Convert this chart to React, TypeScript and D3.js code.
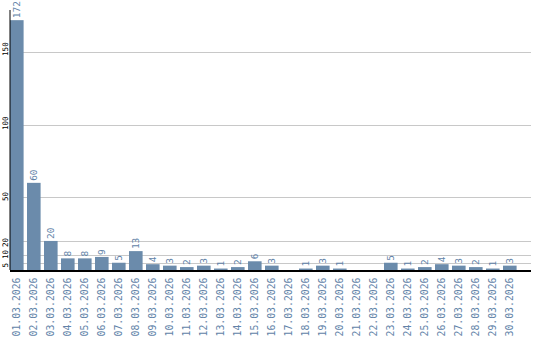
import React from "react";
import * as d3 from "d3";

const dates = [
  "01.03.2026","02.03.2026","03.03.2026","04.03.2026","05.03.2026","06.03.2026",
  "07.03.2026","08.03.2026","09.03.2026","10.03.2026","11.03.2026","12.03.2026",
  "13.03.2026","14.03.2026","15.03.2026","16.03.2026","17.03.2026","18.03.2026",
  "19.03.2026","20.03.2026","21.03.2026","22.03.2026","23.03.2026","24.03.2026",
  "25.03.2026","26.03.2026","27.03.2026","28.03.2026","29.03.2026","30.03.2026",
];
const values = [172, 60, 20, 8, 8, 9, 5, 13, 4, 3, 2, 3, 1, 2, 6, 3, 0, 1, 3, 1, 0, 0, 5, 1, 2, 4, 3, 2, 1, 3];
const yTicks = [5, 10, 20, 50, 100, 150];
const yTickOffsets: Record<number, number> = { 5: 2.5, 10: -1, 20: 1.5, 50: -1, 100: -1.5, 150: -3 };

const W = 540;
const H = 340;
const BAR = "#6b8bab";
const TXT = "#6283a8";
const MONO = "'DejaVu Sans Mono', 'Liberation Mono', monospace";

export default function App() {
  const x = d3.scaleBand<string>().domain(dates).range([10, 516.6]).paddingInner(0.2).paddingOuter(0);
  const y = d3.scaleLinear().domain([0, 179]).range([270, 10]);
  const x0 = 10;
  const x1 = 531;
  const base = y(0);

  return (
    <svg width={W} height={H} style={{ position: "absolute", left: 0, top: 0, background: "#fff" }}>
      {yTicks.map((t) => (
        <line key={"g" + t} x1={x0} x2={x1} y1={Math.round(y(t)) + 0.5} y2={Math.round(y(t)) + 0.5} stroke="#c8c8c8" strokeWidth={1} />
      ))}
      {yTicks.map((t) => {
        const ty = y(t) + (yTickOffsets[t] || 0);
        return (
          <text key={"t" + t} transform={`translate(5,${ty}) rotate(-90)`} textAnchor="middle" dominantBaseline="central"
            fontFamily={MONO} fontSize={7.6} fill="#000">{t}</text>
        );
      })}
      {values.map((v, i) => {
        if (v <= 0) return null;
        const bx = x(dates[i])!;
        return <rect key={"b" + i} x={bx} y={y(v)} width={x.bandwidth()} height={base - y(v)} fill={BAR} />;
      })}
      {values.map((v, i) => {
        if (v <= 0) return null;
        const cx = x(dates[i])! + x.bandwidth() / 2;
        return (
          <text key={"v" + i} transform={`translate(${cx},${y(v) - 2}) rotate(-90)`} textAnchor="start" dominantBaseline="central"
            fontFamily={MONO} fontSize={9.5} fill={TXT}>{v}</text>
        );
      })}
      {dates.map((d) => {
        const cx = x(d)! + x.bandwidth() / 2;
        return (
          <text key={"d" + d} transform={`translate(${cx},${base + 7.5}) rotate(-90)`} textAnchor="end" dominantBaseline="central"
            fontFamily={MONO} fontSize={9.8} fill={TXT}>{d}</text>
        );
      })}
      <line x1={x0} x2={x0} y1={y(179)} y2={base} stroke="#000" strokeWidth={1} />
      <line x1={x0} x2={x1} y1={base + 1} y2={base + 1} stroke="#000" strokeWidth={2} />
    </svg>
  );
}
